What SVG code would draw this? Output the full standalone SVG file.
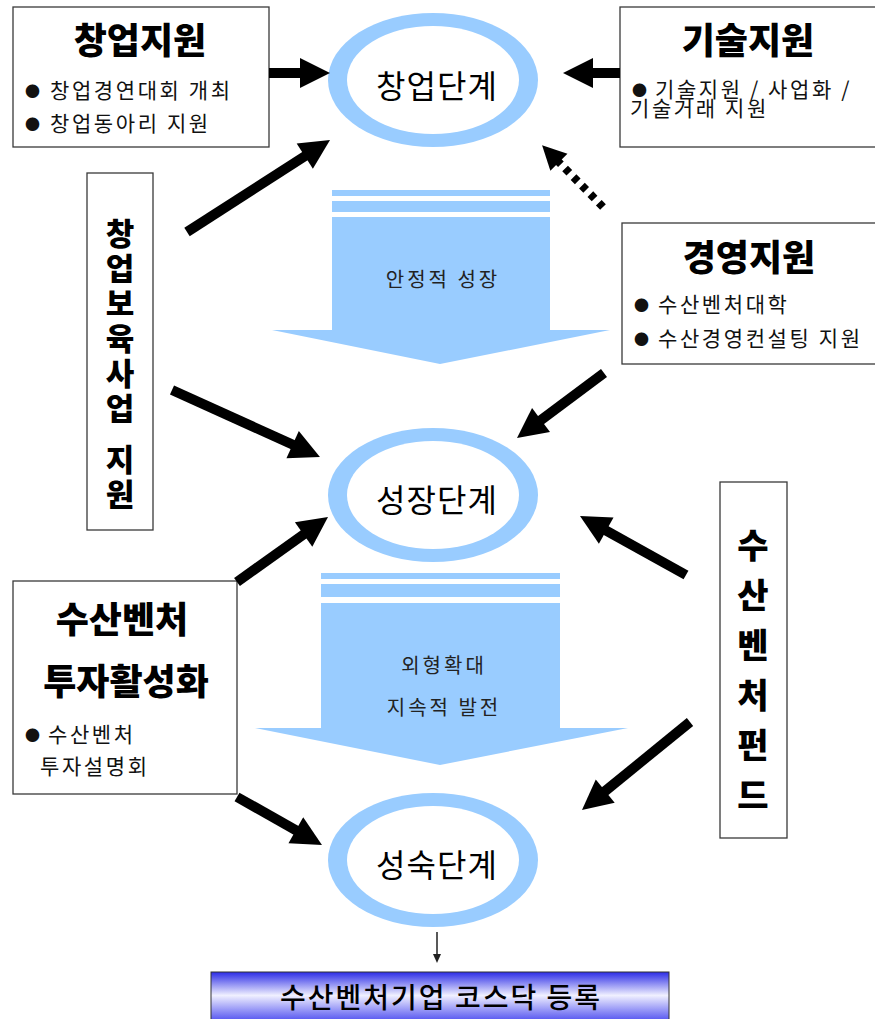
<svg xmlns="http://www.w3.org/2000/svg" width="875" height="1019" viewBox="0 0 875 1019">
<style>
.box{fill:#fff;stroke:#3a3a3a;stroke-width:1.3}
.t{font-family:"Noto Sans CJK KR","Noto Sans",sans-serif;fill:#000}
.title{font-size:36px;font-weight:900;text-anchor:middle}
.item{font-size:21px;letter-spacing:2.6px;fill:#111}
.bul{font-size:15px}
.stage{font-size:32px;text-anchor:middle;letter-spacing:1px}
.flow{font-size:20px;text-anchor:middle;letter-spacing:3px;fill:#222}
.vert{font-weight:900;writing-mode:vertical-rl;text-orientation:upright}
.arr{stroke:#000;stroke-width:10;fill:none;marker-end:url(#ah)}
.blue{fill:#99ccff}
</style>
<defs>
<marker id="ah" markerUnits="strokeWidth" markerWidth="3" markerHeight="3" refX="1.5" refY="1.5" orient="auto" overflow="visible"><path d="M0,0 L3,1.5 L0,3 Z" fill="#000"/></marker>
<marker id="sm" markerUnits="userSpaceOnUse" markerWidth="10" markerHeight="10" refX="2" refY="4" orient="auto"><path d="M0,0 L9,4 L0,8 Z" fill="#222"/></marker>
<linearGradient id="g" x1="0" y1="0" x2="0" y2="1"><stop offset="0" stop-color="#2b2be6"/><stop offset="0.45" stop-color="#f0f0ff"/><stop offset="1" stop-color="#4040ee"/></linearGradient>
</defs>
<rect width="875" height="1019" fill="#fff"/>

<g id="flow1">
<rect class="blue" x="332" y="190" width="218" height="6"/>
<rect class="blue" x="332" y="201" width="218" height="11"/>
<path class="blue" d="M332,217 H550 V330 H610 L440,364 L272,330 H332 Z"/>
<text class="t flow" x="443" y="287">안정적 성장</text>
</g>
<g id="flow2">
<rect class="blue" x="321" y="573" width="239" height="6"/>
<rect class="blue" x="321" y="584" width="239" height="13"/>
<path class="blue" d="M321,603 H560 V728 H628 L440,765 L255,728 H321 Z"/>
<text class="t flow" x="444" y="673">외형확대</text>
<text class="t flow" x="444" y="715">지속적 발전</text>
</g>

<g id="stage1">
<ellipse cx="433" cy="80" rx="105" ry="67" fill="#99ccff"/>
<ellipse cx="433" cy="80" rx="86" ry="54" fill="#fff"/>
<text class="t stage" x="437" y="98">창업단계</text>
</g>
<g id="stage2">
<ellipse cx="433" cy="495" rx="105" ry="67" fill="#99ccff"/>
<ellipse cx="433" cy="495" rx="86" ry="54" fill="#fff"/>
<text class="t stage" x="437" y="512">성장단계</text>
</g>
<g id="stage3">
<ellipse cx="433" cy="860" rx="105" ry="67" fill="#99ccff"/>
<ellipse cx="433" cy="860" rx="86" ry="54" fill="#fff"/>
<text class="t stage" x="437" y="877">성숙단계</text>
</g>

<g id="startup-support">
<rect class="box" x="13" y="7" width="256" height="140"/>
<text class="t title" x="140" y="54">창업지원</text>
<text class="t item" y="98"><tspan class="bul" x="25" dy="-1">●</tspan><tspan x="50" dy="1">창업경연대회 개최</tspan></text>
<text class="t item" y="131"><tspan class="bul" x="25" dy="-1">●</tspan><tspan x="50" dy="1">창업동아리 지원</tspan></text>
</g>

<g id="tech-support">
<rect class="box" x="620" y="7" width="270" height="140"/>
<text class="t title" x="748" y="54">기술지원</text>
<text class="t item" y="97"><tspan class="bul" x="632" dy="-1">●</tspan><tspan x="655" dy="1">기술지원 / 사업화 /</tspan></text>
<text class="t item" x="630" y="116">기술거래 지원</text>
</g>

<g id="mgmt-support">
<rect class="box" x="622" y="223" width="270" height="141"/>
<text class="t title" x="749" y="271">경영지원</text>
<text class="t item" y="312"><tspan class="bul" x="634" dy="-1">●</tspan><tspan x="658" dy="1">수산벤처대학</tspan></text>
<text class="t item" y="346"><tspan class="bul" x="634" dy="-1">●</tspan><tspan x="658" dy="1">수산경영컨설팅 지원</tspan></text>
</g>

<g id="incubation">
<rect class="box" x="87" y="173" width="66" height="357"/>
<text class="t vert" x="120" y="218" style="font-size:31px;letter-spacing:4px">창업보육사업</text>
<text class="t vert" x="120" y="444" style="font-size:31px;letter-spacing:4px">지원</text>
</g>

<g id="venture-fund">
<rect class="box" x="720" y="482" width="67" height="356"/>
<text class="t vert" x="753" y="528" style="font-size:34px;letter-spacing:16px">수산벤처펀드</text>
</g>

<g id="investment">
<rect class="box" x="13" y="581" width="224" height="213"/>
<text class="t title" x="122" y="633">수산벤처</text>
<text class="t title" x="126" y="695">투자활성화</text>
<text class="t item" y="742"><tspan class="bul" x="25" dy="-1">●</tspan><tspan x="48" dy="1">수산벤처</tspan></text>
<text class="t item" x="40" y="774">투자설명회</text>
</g>

<g id="kosdaq">
<rect x="211" y="972" width="458" height="52" fill="url(#g)" stroke="#333" stroke-width="1"/>
<text class="t" x="441" y="1008" text-anchor="middle" style="font-size:28px;letter-spacing:2px;font-weight:500">수산벤처기업 코스닥 등록</text>
</g>

<g id="connectors">
<line class="arr" x1="269" y1="73" x2="315" y2="73"/>
<line class="arr" x1="620" y1="73" x2="578" y2="73"/>
<line class="arr" x1="187" y1="232" x2="317.4" y2="148.1"/>
<line x1="603" y1="207" x2="550.5" y2="153.7" stroke="#000" stroke-width="8" stroke-dasharray="6 6" marker-end="url(#ah)"/>
<line class="arr" x1="172" y1="390" x2="306.3" y2="450.8"/>
<line class="arr" x1="604" y1="373" x2="529" y2="429"/>
<line class="arr" x1="237" y1="582" x2="315.8" y2="525.7"/>
<line class="arr" x1="686" y1="575" x2="593.1" y2="523.3"/>
<line class="arr" x1="237" y1="797" x2="308.9" y2="837.6"/>
<line class="arr" x1="690" y1="722" x2="593.6" y2="800.5"/>
<line x1="437" y1="932" x2="437" y2="956" stroke="#222" stroke-width="1.5" marker-end="url(#sm)"/>
</g>
</svg>
